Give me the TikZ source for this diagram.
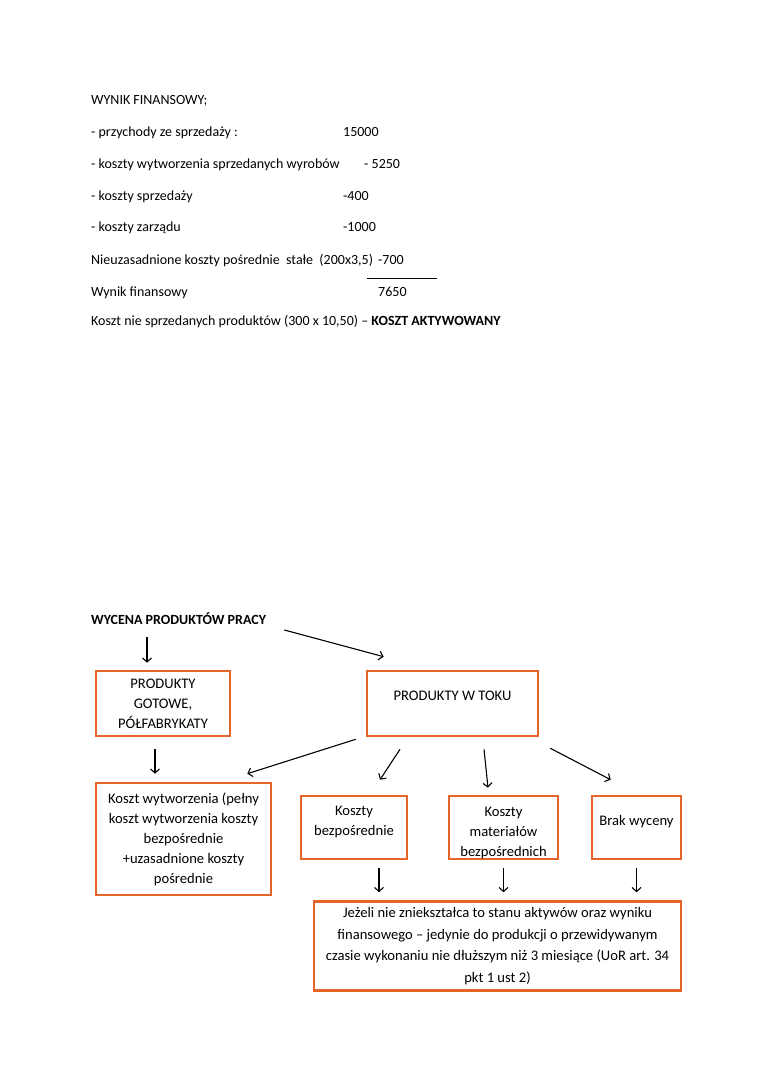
\documentclass[tikz,border=0pt]{standalone}
\usepackage{fontspec}
\setmainfont{Carlito}
\usepackage{xcolor}
\usetikzlibrary{arrows.meta, positioning}
\definecolor{pomarancz}{RGB}{228,100,42}

\begin{document}
\begin{tikzpicture}[
    x=1pt, y=-1pt,
    every node/.style={font=\fontsize{14}{20}\selectfont, inner sep=0pt},
    wiersz/.style={anchor=base west},
    ramka/.style={rectangle, draw=pomarancz, line width=2.6pt, align=center, inner sep=0pt, font=\fontsize{14.6}{20}\selectfont},
    strzalka/.style={-{Straight Barb[length=4pt, width=9pt]}, line width=1.1pt},
]
\useasboundingbox (0,0) rectangle (760,1075);

% wynik finansowy
\node[wiersz] (naglowek) at (91,105) {WYNIK FINANSOWY;};
\node[wiersz] (przychody) at (91,137) {- przychody ze sprzedaży :};
\node[wiersz] (przychodyW) at (343,137) {15000};
\node[wiersz] (wytworzenie) at (91,169) {- koszty wytworzenia sprzedanych wyrobów};
\node[wiersz] (wytworzenieW) at (364,169) {- 5250};
\node[wiersz] (sprzedaz) at (91,201) {- koszty sprzedaży};
\node[wiersz] (sprzedazW) at (343,201) {-400};
\node[wiersz] (zarzad) at (91,232) {- koszty zarządu};
\node[wiersz] (zarzadW) at (343,232) {-1000};
\node[wiersz] (nieuzasadnione) at (91,264) {Nieuzasadnione koszty pośrednie\ \ stałe\ \ (200x3,5)};
\node[wiersz] (nieuzasadnioneW) at (378,264) {-700};
\draw[line width=0.8pt] (367,278) -- (437,278);
\node[wiersz] (wynik) at (91,296) {Wynik finansowy};
\node[wiersz] (wynikW) at (378,296) {7650};
\node[wiersz] (aktywowany) at (91,325) {Koszt nie sprzedanych produktów (300 x 10,50) -- \textbf{KOSZT AKTYWOWANY}};

% wycena produktow pracy
\node[wiersz] (tytul) at (91,624) {\textbf{WYCENA PRODUKTÓW PRACY}};

\node[ramka, minimum width=134pt, minimum height=65pt] (gotowe) at (163,703.5) {PRODUKTY\\GOTOWE,\\PÓŁFABRYKATY};
\node[ramka, minimum width=171pt, minimum height=65pt, text depth=15pt] (tok) at (452.5,703.5) {PRODUKTY W TOKU};
\node[ramka, minimum width=175pt, minimum height=112pt] (koszt) at (183.5,839) {Koszt wytworzenia (pełny\\koszt wytworzenia koszty\\bezpośrednie\\+uzasadnione koszty\\pośrednie};
\node[ramka, minimum width=106pt, minimum height=63pt, text depth=14pt] (bezp) at (354,827.5) {Koszty\\bezpośrednie};
\node[ramka, minimum width=109pt, minimum height=63pt, text height=60pt] (mat) at (503.5,827.5) {Koszty\\materiałów\\bezpośrednich};
\node[ramka, minimum width=89pt, minimum height=63pt, text depth=14pt] (brak) at (636.5,827.5) {Brak wyceny};
\node[ramka, minimum width=367pt, minimum height=89pt, font=\fontsize{14.6}{21.5}\selectfont] (uwaga) at (497.5,946) {Jeżeli nie zniekształca to stanu aktywów oraz wyniku\\finansowego -- jedynie do produkcji o przewidywanym\\czasie wykonaniu nie dłuższym niż 3 miesiące (UoR art. 34\\pkt 1 ust 2)};

\draw[strzalka, shorten <=13pt] ([xshift=-16pt]gotowe.north |- tytul.base) -- ([xshift=-16pt, yshift=7pt]gotowe.north);
\draw[strzalka] ([xshift=18pt, yshift=-6pt]tytul.base east) -- ([xshift=18pt, yshift=13pt]tok.north west);
\draw[strzalka] ([xshift=-8pt, yshift=-12pt]gotowe.south) -- ([xshift=-8pt, yshift=8pt]gotowe.south |- koszt.north);
\draw[strzalka] ([xshift=-10pt, yshift=-2pt]tok.south west) -- ([xshift=-25pt, yshift=8pt]koszt.north east);
\draw[strzalka] ([xshift=-52.5pt, yshift=-12pt]tok.south) -- ([xshift=26pt, yshift=15pt]bezp.north);
\draw[strzalka] ([xshift=31.5pt, yshift=-12pt]tok.south) -- ([xshift=-15.5pt, yshift=7pt]mat.north);
\draw[strzalka] ([xshift=11pt, yshift=-11pt]tok.south east) -- ([xshift=20pt, yshift=15pt]brak.north west);
\draw[strzalka] ([xshift=25pt, yshift=-8pt]bezp.south) -- ([xshift=25pt, yshift=8pt]bezp.south |- uwaga.north);
\draw[strzalka] ([yshift=-8pt]mat.south) -- ([yshift=8pt]mat.south |- uwaga.north);
\draw[strzalka] ([yshift=-8pt]brak.south) -- ([yshift=8pt]brak.south |- uwaga.north);

\end{tikzpicture}
\end{document}
